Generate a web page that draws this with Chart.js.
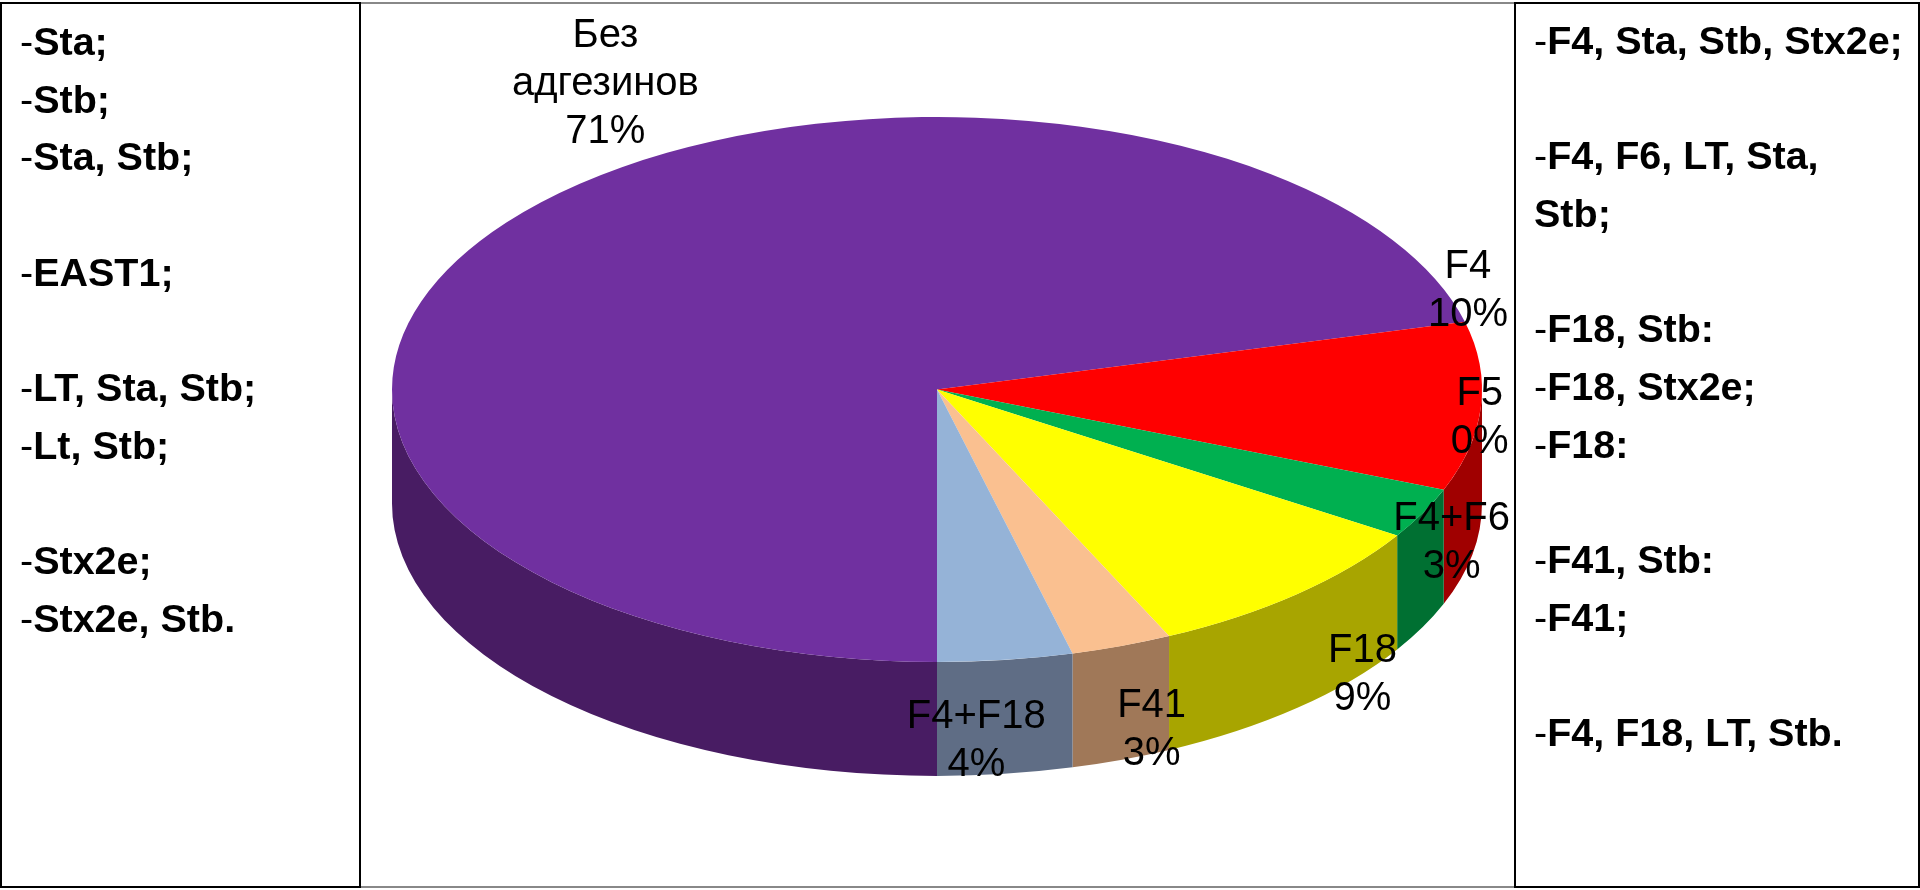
<!DOCTYPE html>
<html>
<head>
<meta charset="utf-8">
<script src="https://cdn.jsdelivr.net/npm/chart.js@4/dist/chart.umd.min.js"></script>
<style>
  html, body { margin:0; padding:0; background:#fff; width:1920px; height:890px; overflow:hidden; }
  #c { position:absolute; left:0; top:0; }
  .box { position:absolute; box-sizing:border-box; border:2px solid #000; background:transparent;
         font-family:"Liberation Sans", Arial, sans-serif; font-size:39.5px; color:#000; }
  .box .ln { height:57.7px; line-height:57.7px; white-space:nowrap; }
  .box b { font-weight:bold; }
  .gline { position:absolute; height:2px; background:#888; }
</style>
</head>
<body>
<canvas id="c" width="1920" height="890"></canvas>
<div class="gline" style="left:360px; top:2px; width:1155px;"></div>
<div class="gline" style="left:360px; top:886px; width:1155px;"></div>
<div class="box" id="leftBox" style="left:0; top:2px; width:361px; height:886px; padding:9px 0 0 18px;"></div>
<div class="box" id="rightBox" style="left:1514px; top:2px; width:406px; height:886px; padding:8px 0 0 18px;"></div>
<script>
// ---- data ----
const categories = [['Без', 'адгезинов'], 'F4', 'F5', 'F4+F6', 'F18', 'F41', 'F4+F18'];
const values = [71, 10, 0, 3, 9, 3, 4];
const topColors = ['#7030A0', '#FF0000', '#C0504D', '#00B050', '#FFFF00', '#FAC090', '#95B3D7'];
const sideColors = ['#481C63', '#A00000', '#7A2E2C', '#007032', '#A8A500', '#A07858', '#5F6D85'];
const leftNotes = ['Sta;', 'Stb;', 'Sta, Stb;', '', 'EAST1;', '', 'LT, Sta, Stb;', 'Lt, Stb;', '', 'Stx2e;', 'Stx2e, Stb.'];
const rightNotes = ['F4, Sta, Stb, Stx2e;', '', 'F4, F6, LT, Sta,', '+Stb;', '', 'F18, Stb:', 'F18, Stx2e;', 'F18:', '', 'F41, Stb:', 'F41;', '', 'F4, F18, LT, Stb.'];
// label offsets from the rim point at each slice's mid angle
const labelOffsets = [[99, -175], [-13, -129], [36, -85], [29, 17], [65, 68], [30, 71], [-29, 68]];

// ---- side notes ----
function fillNotes(id, notes) {
  const el = document.getElementById(id);
  notes.forEach(n => {
    const d = document.createElement('div');
    d.className = 'ln';
    if (n === '') d.innerHTML = '&nbsp;';
    else if (n.startsWith('+')) { const b = document.createElement('b'); b.textContent = n.slice(1); d.appendChild(b); }
    else { d.appendChild(document.createTextNode('-')); const b = document.createElement('b'); b.textContent = n; d.appendChild(b); }
    el.appendChild(d);
  });
}
fillNotes('leftBox', leftNotes);
fillNotes('rightBox', rightNotes);

// ---- 3D pie plugin ----
const STRETCH = 2;          // horizontal stretch of the pie (ellipse ratio)
const DEPTH_RATIO = 0.418;  // side height relative to vertical radius
const pie3d = {
  id: 'pie3d',
  beforeDatasetsDraw(chart) {
    const ctx = chart.ctx;
    const arcs = chart.getDatasetMeta(0).data;
    const cx = arcs[0].x, cy = arcs[0].y, r = arcs[0].outerRadius;
    const rx = r * STRETCH, ry = r, depth = r * DEPTH_RATIO;
    arcs.forEach((a, i) => {
      const a1 = a.startAngle, a2 = a.endAngle;
      if (a2 - a1 <= 0) return;
      for (let k = -2; k <= 3; k++) {
        const lo = Math.max(a1, 2 * Math.PI * k), hi = Math.min(a2, 2 * Math.PI * k + Math.PI);
        if (hi > lo) {
          ctx.save();
          ctx.fillStyle = sideColors[i];
          ctx.beginPath();
          ctx.ellipse(cx, cy, rx, ry, 0, lo, hi, false);
          ctx.lineTo(cx + rx * Math.cos(hi), cy + depth + ry * Math.sin(hi));
          ctx.ellipse(cx, cy + depth, rx, ry, 0, hi, lo, true);
          ctx.closePath();
          ctx.fill();
          ctx.restore();
        }
      }
    });
    ctx.save();
    ctx.translate(cx, cy);
    ctx.scale(STRETCH, 1);
    ctx.translate(-cx, -cy);
  },
  afterDatasetsDraw(chart) {
    const ctx = chart.ctx;
    ctx.restore();
    const arcs = chart.getDatasetMeta(0).data;
    const total = values.reduce((s, v) => s + v, 0);
    ctx.save();
    ctx.fillStyle = '#000';
    ctx.font = '40px "Liberation Sans", Arial, sans-serif';
    ctx.textAlign = 'center';
    ctx.textBaseline = 'alphabetic';
    arcs.forEach((a, i) => {
      const r = a.outerRadius;
      const m = (a.startAngle + a.endAngle) / 2;
      const px = a.x + r * STRETCH * Math.cos(m) + labelOffsets[i][0];
      const py = a.y + r * Math.sin(m) + labelOffsets[i][1];
      const name = categories[i];
      const lines = (Array.isArray(name) ? name.slice() : [name]);
      lines.push(Math.round(values[i] / total * 100) + '%');
      lines.forEach((t, j) => ctx.fillText(t, px, py + j * 48));
    });
    ctx.restore();
  }
};

new Chart(document.getElementById('c'), {
  type: 'pie',
  data: {
    labels: categories,
    datasets: [{
      data: values,
      backgroundColor: topColors,
      borderWidth: 0,
      hoverOffset: 0,
      offset: 0
    }]
  },
  options: {
    responsive: false,
    animation: false,
    rotation: 180,
    layout: { padding: { left: 392, right: 438, top: 117, bottom: 228 } },
    plugins: { legend: { display: false }, tooltip: { enabled: false } },
    events: []
  },
  plugins: [pie3d]
});
</script>
</body>
</html>
